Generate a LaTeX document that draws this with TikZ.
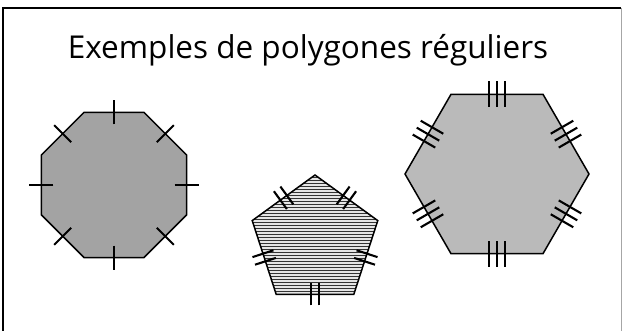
\documentclass[tikz,border=0pt]{standalone}
\usepackage{fontspec}
\setmainfont{Open Sans}
\usetikzlibrary{shapes.geometric,calc,patterns}
\definecolor{octgray}{gray}{0.64}
\definecolor{hexgray}{gray}{0.73}
\tikzstyle{poly}=[regular polygon, draw=black, line width=1.5pt, inner sep=0pt,
                  outer sep=0pt, line join=miter]
\tikzstyle{tick}=[line width=2.1pt]
\tikzstyle{frame}=[line width=1.8pt]

\begin{document}
\begin{tikzpicture}[x=1pt,y=-1pt]
\useasboundingbox (0,0) rectangle (622,331);
\draw[frame] (3,331) -- (3,8) -- (621,8);
\draw[line width=0.5pt, black!35] (621,8) -- (621,331);

\node (TTL) [anchor=base] at (308,59) {\fontsize{31.5}{31.5}\selectfont Exemples de polygones réguliers};

\node (OCT) [poly, regular polygon sides=8, minimum size=157pt, fill=octgray] at (114,185) {};
\foreach \i in {1,...,8}
  \draw[tick] ($(OCT.side \i)!12pt!(OCT.center)$) -- ($(OCT.side \i)!-12pt!(OCT.center)$);

\node (PENT) [poly, regular polygon sides=5, minimum size=132pt,
  preaction={fill=gray!20}, pattern=horizontal lines, pattern color=black!80] at (315,241) {};
\foreach \i in {1,...,5}
  \foreach \s in {-4pt,4pt} {
    \coordinate (m) at ($(PENT.side \i)!\s!(PENT.corner \i)$);
    \draw[tick] ($(m)!11pt!90:(PENT.corner \i)$) -- ($(m)!11pt!-90:(PENT.corner \i)$);
  }

\node (HEX) [poly, regular polygon sides=6, minimum size=184pt, fill=hexgray] at (497,174) {};
\foreach \i in {1,...,6}
  \foreach \s in {-8pt,0pt,8pt} {
    \coordinate (m) at ($(HEX.side \i)!\s!(HEX.corner \i)$);
    \draw[tick] ($(m)!13pt!90:(HEX.corner \i)$) -- ($(m)!13pt!-90:(HEX.corner \i)$);
  }
\end{tikzpicture}
\end{document}
